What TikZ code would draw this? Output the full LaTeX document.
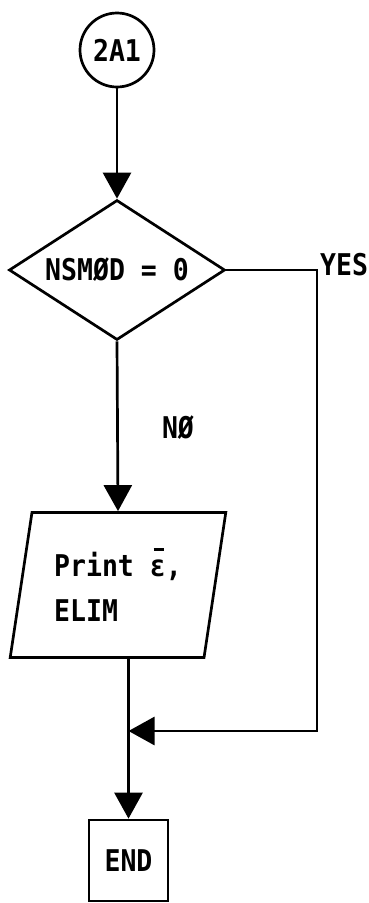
\documentclass[tikz,border=0pt]{standalone}
\usepackage{fontspec}
\usepackage{graphicx}
\setmonofont{DejaVu Sans Mono}
\usetikzlibrary{shapes.geometric,arrows.meta}
\newcommand\tallt[1]{\scalebox{1}[1.13]{#1}}
\newcommand\epsbar{\makebox[0pt][l]{\kern0.14em\raisebox{0.86em}{\rule{0.4em}{0.09em}}}ε}
\begin{document}
\begin{tikzpicture}[x=1pt,y=-1pt,
  every node/.style={font=\ttfamily\bfseries\fontsize{26.5}{45}\selectfont, inner sep=0pt},
  box/.style={draw, line width=2.7pt},
  conn/.style={line width=2.7pt},
  arr/.style={conn,-{Triangle[length=26pt,width=28pt]}}]
\useasboundingbox (0,0) rectangle (369,903);
\node[box,circle,minimum size=74pt] (c) at (117,50) {\tallt{2A1}};
\node[box,diamond,aspect=1.54,minimum width=216pt,minimum height=140pt] (d) at (117,270) {\tallt{NSMØD = 0}};
\node[box,trapezium,trapezium left angle=77.6,trapezium right angle=102.4,trapezium stretches=true,minimum width=216pt,minimum height=145pt,align=left] (p) at (118,585) {\tallt{Print \epsbar,}\\\tallt{ELIM}};
\node[box,rectangle,minimum width=79pt,minimum height=81pt] (e) at (128.5,860.5) {\tallt{END}};
\node (no) at (178,428) {\tallt{NØ}};
\node[anchor=west] (yes) at (320,265) {\tallt{YES}};
\coordinate (yb) at (317,731);
\coordinate (m) at (e.north |- yb);
\draw[arr] (c.south) -- (d.north);
\draw[arr] (d.south) -- (p.north);
\draw[arr] (p.south -| e.north) -- (e.north);
\draw[arr] (d.east) -- (d.east -| yb) -- (yb) -- (m);
\end{tikzpicture}
\end{document}
